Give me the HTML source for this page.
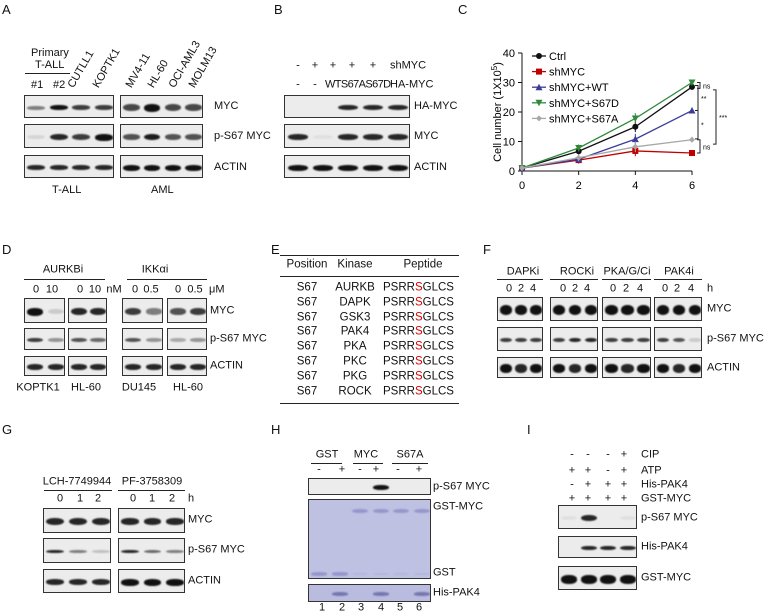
<!DOCTYPE html>
<html><head><meta charset="utf-8"><style>
body{margin:0;width:765px;height:614px;background:#fff;position:relative;overflow:hidden;font-family:"Liberation Sans",sans-serif;color:#111}
.t{position:absolute;font-size:11px;white-space:nowrap;line-height:1}
.cc{position:absolute;font-size:11px;white-space:nowrap;line-height:1;transform:translate(-50%,-50%)}
.cl{position:absolute;font-size:11px;white-space:nowrap;line-height:1;transform:translateY(-50%)}
.P{position:absolute;font-size:13px}
.box{position:absolute;background:#ececec;border:1px solid #333;box-sizing:border-box;overflow:hidden}
.band{position:absolute;background:#111;border-radius:45%;filter:blur(0.8px)}
.ln{position:absolute;height:1px;background:#222}
.rot{position:absolute;font-size:11px;transform-origin:left bottom;transform:rotate(-60deg);white-space:nowrap}
</style></head><body>
<!-- Panel letters -->
<div class="P" style="left:2px;top:2px">A</div>
<div class="P" style="left:274px;top:2px">B</div>
<div class="P" style="left:458px;top:2px">C</div>
<div class="P" style="left:2px;top:242px">D</div>
<div class="P" style="left:271px;top:242px">E</div>
<div class="P" style="left:483px;top:242px">F</div>
<div class="P" style="left:2px;top:422px">G</div>
<div class="P" style="left:271px;top:422px">H</div>
<div class="P" style="left:527px;top:422px">I</div>

<!-- Panel A -->
<div class="t" style="left:31px;top:48px">Primary</div>
<div class="t" style="left:35px;top:60px">T-ALL</div>
<div class="ln" style="left:25px;top:73px;width:45px"></div>
<div class="t" style="left:31px;top:80px">#1</div>
<div class="t" style="left:53px;top:80px">#2</div>
<div class="rot" style="left:76px;top:78px">CUTLL1</div>
<div class="rot" style="left:101px;top:78px">KOPTK1</div>
<div class="rot" style="left:134px;top:78px">MV4-11</div>
<div class="rot" style="left:156px;top:78px">HL-60</div>
<div class="rot" style="left:177px;top:78px">OCI-AML3</div>
<div class="rot" style="left:197px;top:78px">MOLM13</div>
<div class="t" style="left:214px;top:101px">MYC</div>
<div class="t" style="left:214px;top:131px">p-S67 MYC</div>
<div class="t" style="left:214px;top:162px">ACTIN</div>
<div class="t" style="left:52px;top:185px">T-ALL</div>
<div class="t" style="left:151px;top:185px">AML</div>

<!-- Panel B -->
<div class="cc" style="left:298px;top:66px">-</div>
<div class="cc" style="left:315px;top:66px">+</div>
<div class="cc" style="left:333px;top:66px">+</div>
<div class="cc" style="left:352px;top:66px">+</div>
<div class="cc" style="left:373px;top:66px">+</div>
<div class="cl" style="left:390px;top:66px">shMYC</div>
<div class="cc" style="left:298px;top:85px">-</div>
<div class="cc" style="left:315px;top:85px">-</div>
<div class="cl" style="left:325px;top:85px;letter-spacing:-0.6px">WTS67AS67D</div>
<div class="cl" style="left:390px;top:85px">HA-MYC</div>
<div class="t" style="left:414px;top:101px">HA-MYC</div>
<div class="t" style="left:414px;top:131px">MYC</div>
<div class="t" style="left:414px;top:162px">ACTIN</div>

<!-- Panel C chart -->
<svg id="chart" width="765" height="200" style="position:absolute;left:0;top:0" font-family="Liberation Sans, sans-serif"></svg>

<!-- Panel D -->
<div class="cc" style="left:63px;top:270px">AURKBi</div>
<div class="ln" style="left:24px;top:279px;width:81px"></div>
<div class="cc" style="left:155px;top:270px">IKKαi</div>
<div class="ln" style="left:127px;top:279px;width:80px"></div>
<div class="cc" style="left:36px;top:290px">0</div>
<div class="cc" style="left:52px;top:290px">10</div>
<div class="cc" style="left:80px;top:290px">0</div>
<div class="cc" style="left:95px;top:290px">10</div>
<div class="cc" style="left:114px;top:290px">nM</div>
<div class="cc" style="left:135px;top:290px">0</div>
<div class="cc" style="left:151px;top:290px">0.5</div>
<div class="cc" style="left:178px;top:290px">0</div>
<div class="cc" style="left:195px;top:290px">0.5</div>
<div class="cl" style="left:209px;top:290px">μM</div>
<div class="cl" style="left:210px;top:311px">MYC</div>
<div class="cl" style="left:210px;top:339px">p-S67 MYC</div>
<div class="cl" style="left:210px;top:366px">ACTIN</div>
<div class="cc" style="left:38px;top:388px">KOPTK1</div>
<div class="cc" style="left:86px;top:388px">HL-60</div>
<div class="cc" style="left:139px;top:388px">DU145</div>
<div class="cc" style="left:188px;top:388px">HL-60</div>

<!-- Panel E table -->
<div class="ln" style="left:280px;top:255px;width:179px"></div>
<div class="ln" style="left:280px;top:276px;width:179px"></div>
<div class="ln" style="left:280px;top:403px;width:179px"></div>
<div class="cc" style="left:307px;top:265px;font-size:11.5px">Position</div>
<div class="cc" style="left:355px;top:265px;font-size:11.5px">Kinase</div>
<div class="cc" style="left:423px;top:265px;font-size:11.5px">Peptide</div>
<div id="etable"></div>

<!-- Panel F -->
<div class="cc" style="left:523px;top:272px">DAPKi</div>
<div class="cc" style="left:577px;top:272px">ROCKi</div>
<div class="cc" style="left:627px;top:272px">PKA/G/Ci</div>
<div class="cc" style="left:679px;top:272px">PAK4i</div>
<div class="ln" style="left:497px;top:279px;width:46px"></div>
<div class="ln" style="left:550px;top:279px;width:48px"></div>
<div class="ln" style="left:602px;top:279px;width:49px"></div>
<div class="ln" style="left:654px;top:279px;width:48px"></div>
<div id="ftimes"></div>
<div class="cc" style="left:710px;top:289px">h</div>
<div class="cl" style="left:707px;top:309px">MYC</div>
<div class="cl" style="left:707px;top:339px">p-S67 MYC</div>
<div class="cl" style="left:707px;top:368px">ACTIN</div>

<!-- Panel G -->
<div class="cc" style="left:77px;top:482px">LCH-7749944</div>
<div class="cc" style="left:152px;top:482px">PF-3758309</div>
<div class="ln" style="left:44px;top:490px;width:68px"></div>
<div class="ln" style="left:118px;top:490px;width:67px"></div>
<div class="cc" style="left:60px;top:499px">0</div>
<div class="cc" style="left:80px;top:499px">1</div>
<div class="cc" style="left:98px;top:499px">2</div>
<div class="cc" style="left:133px;top:499px">0</div>
<div class="cc" style="left:152px;top:499px">1</div>
<div class="cc" style="left:172px;top:499px">2</div>
<div class="cc" style="left:191px;top:499px">h</div>
<div class="cl" style="left:188px;top:520px">MYC</div>
<div class="cl" style="left:188px;top:550px">p-S67 MYC</div>
<div class="cl" style="left:188px;top:581px">ACTIN</div>

<!-- Panel H -->
<div class="cc" style="left:327px;top:455px">GST</div>
<div class="cc" style="left:366px;top:455px">MYC</div>
<div class="cc" style="left:410px;top:455px">S67A</div>
<div class="ln" style="left:311px;top:463px;width:31px"></div>
<div class="ln" style="left:353px;top:463px;width:30px"></div>
<div class="ln" style="left:392px;top:463px;width:36px"></div>
<div class="cc" style="left:319px;top:470px">-</div>
<div class="cc" style="left:342px;top:470px">+</div>
<div class="cc" style="left:360px;top:470px">-</div>
<div class="cc" style="left:376px;top:470px">+</div>
<div class="cc" style="left:398px;top:470px">-</div>
<div class="cc" style="left:419px;top:470px">+</div>
<div class="cl" style="left:433px;top:487px">p-S67 MYC</div>
<div class="cl" style="left:433px;top:507px">GST-MYC</div>
<div class="cl" style="left:433px;top:573px">GST</div>
<div class="cl" style="left:433px;top:593px">His-PAK4</div>
<div class="cc" style="left:322px;top:608px">1</div>
<div class="cc" style="left:342px;top:608px">2</div>
<div class="cc" style="left:361px;top:608px">3</div>
<div class="cc" style="left:381px;top:608px">4</div>
<div class="cc" style="left:400px;top:608px">5</div>
<div class="cc" style="left:419px;top:608px">6</div>

<!-- Panel I -->
<div id="isigns"></div>
<div class="cl" style="left:641px;top:455px">CIP</div>
<div class="cl" style="left:641px;top:471px">ATP</div>
<div class="cl" style="left:641px;top:485px">His-PAK4</div>
<div class="cl" style="left:641px;top:499px">GST-MYC</div>
<div class="cl" style="left:641px;top:518px">p-S67 MYC</div>
<div class="cl" style="left:641px;top:547px">His-PAK4</div>
<div class="cl" style="left:641px;top:578px">GST-MYC</div>

<div id="blots"></div>

<script>
// ----- Chart data (panel C) -----
const days = [0, 2, 4, 6];
const seriesNames = ["Ctrl", "shMYC", "shMYC+WT", "shMYC+S67D", "shMYC+S67A"];
const ctrlVals = [1, 6.7, 15, 28.5];
const shmycVals = [1, 3.7, 6.8, 6.1];
const wtVals = [1, 4.0, 10.8, 20.5];
const s67dVals = [1, 7.8, 17.8, 30];
const s67aVals = [1, 4.5, 8.2, 10.6];
const ctrlErr = [0.2, 1.2, 1.8, 1.0];
const yTicks = [0, 10, 20, 30, 40];
const xTicks = [0, 2, 4, 6];

const NS = "http://www.w3.org/2000/svg";
const svg = document.getElementById('chart');
const xs = d => 522 + d * (170 / 6);
const ys = v => 171 - v * 2.95;
function mk(tag, attrs, parent) {
  const e = document.createElementNS(NS, tag);
  for (const k in attrs) e.setAttribute(k, attrs[k]);
  (parent || svg).appendChild(e);
  return e;
}
let el;
el = mk('line', {x1: 522, y1: ys(0), x2: 522, y2: ys(40), stroke: '#111'});


el = mk('line', {x1: 522, y1: ys(0), x2: xs(6), y2: ys(0), stroke: '#111'});


yTicks.forEach(v => {
  el = mk('line', {x1: 518, x2: 522, y1: ys(v), y2: ys(v), stroke: '#111'});
  
  
  el = mk('text', {x: 515, y: ys(v) + 4, 'text-anchor': 'end', 'font-size': 11});
  el.textContent = v;
  
  
});
xTicks.forEach(v => {
  el = mk('line', {x1: xs(v), x2: xs(v), y1: ys(0), y2: ys(0) + 4, stroke: '#111'});
  
  
  el = mk('text', {x: xs(v), y: 189, 'text-anchor': 'middle', 'font-size': 11});
  el.textContent = v;
  
  
});
el = mk('text', {x: 501, y: 112, 'text-anchor': 'middle', 'font-size': 11, transform: 'rotate(-90 501 112)'});
el.innerHTML = 'Cell number (1X10<tspan dy="-4" font-size="8">5</tspan><tspan dy="4">)</tspan>';



const allVals = [ctrlVals, shmycVals, wtVals, s67dVals, s67aVals];
const colors = ['#111', '#c00000', '#3b3b9a', '#2e8b3a', '#a8a8a8'];
const markers = ['circle', 'square', 'up', 'down', 'diamond'];
function marker(kind, x, y, c) {
  let m;
  if (kind === 'circle') m = mk('circle', {cx: x, cy: y, r: 3, fill: c});
  else if (kind === 'square') m = mk('rect', {x: x - 3, y: y - 3, width: 6, height: 6, fill: c});
  else if (kind === 'up') m = mk('polygon', {points: `${x},${y-3.5} ${x-3.5},${y+3} ${x+3.5},${y+3}`, fill: c});
  else if (kind === 'down') m = mk('polygon', {points: `${x},${y+3.5} ${x-3.5},${y-3} ${x+3.5},${y-3}`, fill: c});
  else m = mk('polygon', {points: `${x},${y-3} ${x+3},${y} ${x},${y+3} ${x-3},${y}`, fill: c});
  return m;
}
allVals.forEach((vals, i) => {
  const pts = days.map((d, j) => xs(d) + ',' + ys(vals[j])).join(' ');
  el = mk('polyline', {points: pts, fill: 'none', stroke: colors[i], 'stroke-width': 1.3});
  
  
  days.forEach((d, j) => {
    el = mk('line', {x1: xs(d), x2: xs(d), y1: ys(vals[j] + ctrlErr[j]), y2: ys(vals[j] - ctrlErr[j]), stroke: colors[i]});
    
    
    el = marker(markers[i], xs(d), ys(vals[j]), colors[i]);
    
    
  });
  const ly = 56 + i * 15.6;
  el = mk('line', {x1: 532, x2: 546, y1: ly, y2: ly, stroke: colors[i], 'stroke-width': 1.3});
  
  
  el = marker(markers[i], 539, ly, colors[i]);
  
  
  el = mk('text', {x: 549, y: ly + 4, 'font-size': 11});
  el.textContent = seriesNames[i];
  
  
});
function bracket(x, v1, v2, label) {
  const y1 = ys(v1), y2 = ys(v2);
  el = mk('polyline', {points: `${x-3},${y1} ${x},${y1} ${x},${y2} ${x-3},${y2}`, fill: 'none', stroke: '#222'});
  
  
  el = mk('text', {x: x + 3, y: (y1 + y2) / 2 + 3, 'font-size': 7});
  el.textContent = label;
  
  
}
bracket(700, s67dVals[3], ctrlVals[3] - 0.5, 'ns');
bracket(700, s67aVals[3], shmycVals[3], 'ns');
bracket(698, s67dVals[3] - 1, wtVals[3], '**');
bracket(698, wtVals[3], s67aVals[3] + 0.3, '*');
bracket(716, ctrlVals[3] - 1, s67aVals[3] - 1.5, '***');

// ----- Blots -----
const root = document.getElementById('blots');
function blot(x, y, w, h, ints, opt) {
  opt = opt || {};
  const b = document.createElement('div');
  b.className = 'box';
  
  
  b.style.cssText = `left:${x}px;top:${y}px;width:${w}px;height:${h}px;` + (opt.bg ? `background:${opt.bg};` : '');
  root.appendChild(b);
  const n = ints.length, lw = w / n;
  ints.forEach((v, i) => {
    if (v <= 0) return;
    const d = document.createElement('div');
    d.className = 'band';
    
    
    const bh = (opt.bh || 6) * (0.6 + 0.4 * v);
    const by = opt.by != null ? opt.by : h / 2;
    d.style.cssText = `left:${i*lw+lw*0.1}px;width:${lw*0.8}px;top:${by-bh/2}px;height:${bh}px;opacity:${Math.min(1,v)};` + (opt.col ? `background:${opt.col};` : '');
    b.appendChild(d);
  });
}
// A
blot(24, 95, 90, 23, [0.5, 1, 0.8, 0.8], {bh: 5});
blot(24, 124, 90, 24, [0.1, 0.9, 0.8, 1], {bh: 7});
blot(24, 155, 90, 23, [0.9, 0.9, 0.9, 0.9], {bh: 5});
blot(120, 95, 83, 23, [0.75, 1, 0.75, 0.75], {bh: 8});
blot(120, 124, 83, 24, [0.7, 0.95, 0.7, 0.7], {bh: 7});
blot(120, 155, 83, 23, [1, 1, 1, 1], {bh: 6});
// B
blot(284, 95, 126, 23, [0, 0, 0.9, 0.9, 0.9], {bh: 6});
blot(284, 124, 126, 24, [0.9, 0.05, 0.9, 0.9, 0.9], {bh: 6});
blot(284, 155, 126, 23, [1, 1, 1, 1, 1], {bh: 6});
// D
const dx = [[24,41],[68,39],[122,41],[167,40]];
const dMyc = [[1,0.15],[0.9,0.9],[0.8,0.5],[0.7,0.8]];
const dP = [[0.8,0.4],[0.7,0.6],[0.7,0.4],[0.3,0.4]];
dx.forEach((p, i) => {
  blot(p[0], 298, p[1], 25, dMyc[i], {bh: 8});
  blot(p[0], 328, p[1], 22, dP[i], {bh: 5});
  blot(p[0], 356, p[1], 20, [0.9, 0.9], {bh: 6});
});
// F
const fx = [[497,46],[550,48],[602,49],[654,48]];
const fP = [[0.8,0.8,0.8],[0.8,0.9,0.9],[0.8,0.8,0.8],[0.8,0.7,0.15]];
fx.forEach((p, i) => {
  blot(p[0], 297, p[1], 24, [1, 1, 1], {bh: 10});
  blot(p[0], 327, p[1], 24, fP[i], {bh: 5});
  blot(p[0], 357, p[1], 21, [1, 0.9, 1], {bh: 9});
});
// G
blot(43, 508, 68, 25, [0.9, 0.9, 0.9], {bh: 8});
blot(118, 508, 67, 25, [0.9, 0.9, 0.9], {bh: 7});
blot(43, 538, 68, 25, [0.9, 0.5, 0.2], {bh: 4});
blot(118, 538, 67, 25, [0.9, 0.6, 0.5], {bh: 4});
blot(43, 569, 68, 24, [0.9, 0.9, 0.9], {bh: 6});
blot(118, 569, 67, 24, [1, 1, 1], {bh: 7});
// H
blot(308, 478, 123, 17, [0, 0, 0, 1, 0, 0], {bh: 5});
blot(308, 499, 123, 80, [0, 0, 0.5, 0.5, 0.5, 0.5], {bh: 6, by: 11, bg: '#bfc1e3', col: '#6c6eb4'});
blot(308, 499, 123, 80, [0.5, 0.5, 0.15, 0.15, 0.15, 0.15], {bh: 4, by: 74, bg: 'transparent', col: '#6c6eb4'});
blot(308, 584, 123, 18, [0, 0.6, 0, 0.6, 0, 0.6], {bh: 4, bg: '#b9bbdf', col: '#4a4a90'});
// I
blot(558, 505, 79, 24, [0.05, 0.9, 0, 0.05], {bh: 7});
blot(558, 536, 79, 22, [0, 0.9, 0.9, 0.9], {bh: 5});
blot(558, 566, 79, 24, [1, 1, 1, 1], {bh: 9});

// ----- Table E -----
const kinases = ["AURKB", "DAPK", "GSK3", "PAK4", "PKA", "PKC", "PKG", "ROCK"];
const et = document.getElementById('etable');
kinases.forEach((k, i) => {
  const y = 288 + i * 14.8;
  const r = document.createElement('div');
  
  
  r.innerHTML = `<div class="cc" style="left:307px;top:${y}px;font-size:11.5px">S67</div><div class="cc" style="left:355px;top:${y}px;font-size:11.5px">${k}</div><div class="cl" style="left:383px;top:${y}px;font-size:11.5px">PSRR<span style="color:#d00">S</span>GLCS</div>`;
  et.appendChild(r);
});
// F time labels
const ft = document.getElementById('ftimes');
[[509,521,533],[563,575,587],[613,626,640],[665,677,691]].forEach(g => {
  ['0','2','4'].forEach((s, j) => {
    const d = document.createElement('div');
    d.className = 'cc';
    
    
    d.style.cssText = `left:${g[j]}px;top:289px`;
    d.textContent = s;
    ft.appendChild(d);
  });
});
// I signs
const isg = document.getElementById('isigns');
const iRows = [['-','-','-','+'],['+','+','-','+'],['-','+','+','+'],['+','+','+','+']];
const iY = [455, 471, 485, 499];
const iX = [572, 588, 608, 624];
iRows.forEach((row, r) => row.forEach((s, j) => {
  const d = document.createElement('div');
  d.className = 'cc';
  
  
  d.style.cssText = `left:${iX[j]}px;top:${iY[r]}px`;
  d.textContent = s;
  isg.appendChild(d);
}));
</script>
</body></html>
